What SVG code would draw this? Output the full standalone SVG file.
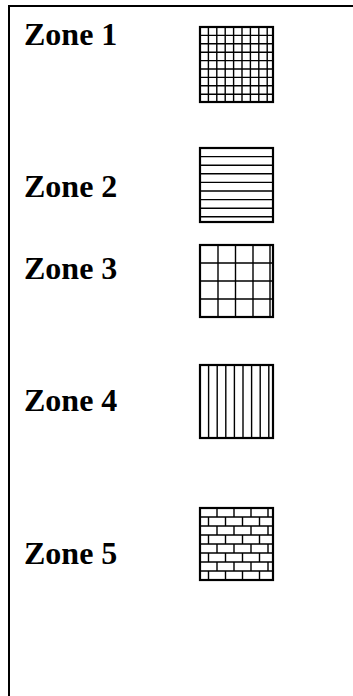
<svg xmlns="http://www.w3.org/2000/svg" width="353" height="696" viewBox="0 0 353 696">
<style>
.lbl{font-family:"Liberation Serif","Times New Roman",serif;font-weight:bold;font-size:32px;fill:#000}
.box{fill:#fff;stroke:#000;stroke-width:2.2}
.pat{fill:none;stroke:#000;stroke-width:1.4}
.frame{fill:none;stroke:#000;stroke-width:2}
</style>
<rect x="0" y="0" width="353" height="696" fill="#fff"/>
<path class="frame" d="M9,696 V6 H353"/>
<g id="zone1">
<text class="lbl" x="24" y="45">Zone 1</text>
<rect class="box" x="200" y="27" width="73" height="75"/>
<path class="pat" d="M208.4,27V102M216.8,27V102M225.2,27V102M233.6,27V102M242,27V102M250.4,27V102M258.8,27V102M267.2,27V102M200,35.4H273M200,43.8H273M200,52.2H273M200,60.6H273M200,69H273M200,77.4H273M200,85.8H273M200,94.2H273"/>
</g>
<g id="zone2">
<text class="lbl" x="24" y="197">Zone 2</text>
<rect class="box" x="200" y="148" width="73" height="74"/>
<path class="pat" d="M200,156.6H273M200,165.2H273M200,173.8H273M200,182.4H273M200,191H273M200,199.6H273M200,208.2H273M200,216.8H273"/>
</g>
<g id="zone3">
<text class="lbl" x="24" y="279">Zone 3</text>
<rect class="box" x="200" y="245" width="73" height="72"/>
<path class="pat" d="M218,245V317M235.5,245V317M253,245V317M270,245V317M200,263H273M200,281H273M200,299H273"/>
</g>
<g id="zone4">
<text class="lbl" x="24" y="411">Zone 4</text>
<rect class="box" x="200" y="365" width="73" height="73"/>
<path class="pat" d="M208.6,365V438M217.2,365V438M225.8,365V438M234.4,365V438M243,365V438M251.6,365V438M260.2,365V438M268.8,365V438"/>
</g>
<g id="zone5">
<text class="lbl" x="24" y="564">Zone 5</text>
<rect class="box" x="200" y="508" width="73" height="72"/>
<path class="pat" d="M200,517H273M200,526H273M200,535H273M200,544H273M200,553H273M200,562H273M200,571H273
M217,508V517M234,508V517M251,508V517M268,508V517
M208.5,517V526M225.5,517V526M242.5,517V526M259.5,517V526
M217,526V535M234,526V535M251,526V535M268,526V535
M208.5,535V544M225.5,535V544M242.5,535V544M259.5,535V544
M217,544V553M234,544V553M251,544V553M268,544V553
M208.5,553V562M225.5,553V562M242.5,553V562M259.5,553V562
M217,562V571M234,562V571M251,562V571M268,562V571
M208.5,571V580M225.5,571V580M242.5,571V580M259.5,571V580"/>
</g>
</svg>
